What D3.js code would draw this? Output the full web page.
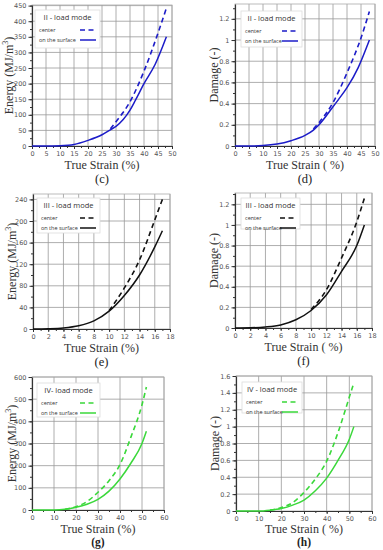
<!DOCTYPE html>
<html>
<head>
<meta charset="utf-8">
<style>
body { margin: 0; background: #fff; }
svg { display: block; }
.tick text { font-family: "DejaVu Sans", sans-serif; font-size: 6.5px; fill: #555; }
.domain { stroke: #333; }
.tick line { stroke: #333; }
.leg-title { font-family: "Open Sans", sans-serif; font-size: 7.5px; fill: #333; }
.leg-item { font-family: "Open Sans", sans-serif; font-size: 5.5px; fill: #333; }
</style>
</head>
<body>
<div id="chart"></div>
<script src="https://cdn.jsdelivr.net/npm/d3@7"></script>
<script>

// ---- data ----
// (c) energy, II load mode
var strainC = [0, 5, 10, 15, 20, 25, 28, 30, 35, 37, 40, 44, 48];
var energyCSurface = [0, 0, 1, 5, 18, 36, 52, 63, 115, 148, 200, 262, 350];
var strainCCenter = [28, 30, 35, 40, 45, 48];
var energyCCenter = [55, 78, 142, 240, 362, 442];

// (d) damage, II load mode
var strainD = [0, 5, 10, 15, 20, 25, 28, 30, 35, 37, 40, 44, 48];
var damageDSurface = [0, 0, 0.004, 0.018, 0.05, 0.1, 0.15, 0.2, 0.37, 0.44, 0.55, 0.74, 1.0];
var strainDCenter = [28, 30, 35, 40, 45, 48];
var damageDCenter = [0.16, 0.22, 0.41, 0.69, 1.02, 1.27];

// (e) energy, III load mode
var strainE = [0, 2, 4, 6, 8, 10, 12, 14, 16, 17];
var energyESurface = [0, 0.5, 2, 6, 15, 33, 62, 100, 152, 182];
var strainECenter = [10, 12, 14, 16, 17];
var energyECenter = [34, 76, 128, 202, 240];

// (f) damage, III load mode
var strainF = [0, 2, 4, 6, 8, 10, 12, 14, 16, 17];
var damageFSurface = [0, 0.002, 0.01, 0.03, 0.08, 0.17, 0.32, 0.55, 0.8, 1.0];
var strainFCenter = [10, 12, 14, 16, 17];
var damageFCenter = [0.18, 0.37, 0.68, 1.03, 1.26];

// (g) energy, IV load mode
var strainG = [0, 10, 15, 20, 25, 30, 35, 40, 45, 50, 52];
var energyGSurface = [0, 0, 3, 12, 26, 48, 85, 140, 212, 300, 355];
var strainGCenter = [15, 20, 25, 30, 35, 40, 45, 50, 52];
var energyGCenter = [3, 15, 38, 80, 132, 205, 330, 475, 555];

// (h) damage, IV load mode
var strainH = [0, 10, 15, 20, 25, 30, 35, 40, 45, 50, 52];
var damageHSurface = [0, 0, 0.01, 0.03, 0.07, 0.13, 0.24, 0.39, 0.6, 0.85, 1.0];
var strainHCenter = [15, 20, 25, 30, 35, 40, 45, 50, 52];
var damageHCenter = [0.01, 0.04, 0.1, 0.22, 0.38, 0.59, 0.93, 1.35, 1.52];

var legendLabels = ["center", "on the surface"];

var panels = [
  { x0: 32, x1: 172, y0: 146, y1: 5, xd: [0, 50], xStep: 5, yd: [0, 452], yStep: 50, yMax: 450,
    sx: strainC, sy: energyCSurface, cx: strainCCenter, cy: energyCCenter, color: "#1c1cc8",
    title: "II - load mode", ylab: "energy", cap: "(c)", legend: [35, 10, 65, 38], ylx: 9, xly: 22.5, capy: 37, capSize: 12.5 },
  { x0: 235, x1: 375, y0: 146, y1: 4, xd: [0, 50], xStep: 5, yd: [0, 1.34], yStep: 0.2, yMax: 1.2,
    sx: strainD, sy: damageDSurface, cx: strainDCenter, cy: damageDCenter, color: "#1c1cc8",
    title: "II - load mode", ylab: "damage", cap: "(d)", legend: [241, 11, 61, 36], ylx: 214, xly: 22.5, capy: 37, capSize: 12.5 },
  { x0: 33, x1: 170, y0: 329, y1: 194, xd: [0, 18], xStep: 2, yd: [0, 250], yStep: 40, yMax: 240,
    sx: strainE, sy: energyESurface, cx: strainECenter, cy: energyECenter, color: "#111",
    title: "III - load mode", ylab: "energy", cap: "(e)", legend: [37, 198, 63, 35], ylx: 12, xly: 22.5, capy: 36.5, capSize: 12.5 },
  { x0: 235, x1: 372, y0: 328, y1: 193, xd: [0, 18], xStep: 2, yd: [0, 1.31], yStep: 0.2, yMax: 1.2,
    sx: strainF, sy: damageFSurface, cx: strainFCenter, cy: damageFCenter, color: "#111",
    title: "III - load mode", ylab: "damage", cap: "(f)", legend: [241, 198, 59, 31], ylx: 214, xly: 22.5, capy: 36.5, capSize: 12.5 },
  { x0: 32, x1: 164, y0: 510, y1: 377, xd: [0, 60], xStep: 10, yd: [0, 600], yStep: 100, yMax: 600,
    sx: strainG, sy: energyGSurface, cx: strainGCenter, cy: energyGCenter, color: "#3ad83a",
    title: "IV- load mode", ylab: "energy", cap: "(g)", legend: [37, 383, 63, 34], ylx: 12, xly: 22.5, capy: 36, capSize: 11.5, bold: true },
  { x0: 236, x1: 372, y0: 511, y1: 376, xd: [0, 60], xStep: 10, yd: [0, 1.6], yStep: 0.2, yMax: 1.6,
    sx: strainH, sy: damageHSurface, cx: strainHCenter, cy: damageHCenter, color: "#3ad83a",
    title: "IV - load mode", ylab: "damage", cap: "(h)", legend: [242, 382, 60, 31], ylx: 215, xly: 22, capy: 35, capSize: 11.5, bold: true }
];

var svg = d3.select("#chart").append("svg")
    .attr("width", 383)
    .attr("height", 550);

function steps(a, b, s) {
  var out = [];
  for (var i = 0; a + i * s <= b + 1e-9; i++) out.push(+(a + i * s).toFixed(4));
  return out;
}

var serif = "'Liberation Serif', 'Times New Roman', serif";

panels.forEach(function(p) {
  var x = d3.scaleLinear().domain(p.xd).range([p.x0, p.x1]);
  var y = d3.scaleLinear().domain(p.yd).range([p.y0, p.y1]);
  var xt = steps(p.xd[0], p.xd[1], p.xStep);
  var yt = steps(0, p.yMax, p.yStep);
  var xm = steps(p.xd[0], p.xd[1], p.xStep / 2);
  var ym = steps(0, p.yd[1], p.yStep / 2);
  var g = svg.append("g");

  // grid
  g.selectAll(".gx").data(xt.slice(1)).enter().append("line")
      .attr("x1", d => x(d)).attr("x2", d => x(d))
      .attr("y1", p.y0).attr("y2", p.y1)
      .attr("stroke", "#999").attr("stroke-width", 0.8);
  g.selectAll(".gy").data(yt.slice(1)).enter().append("line")
      .attr("x1", p.x0).attr("x2", p.x1)
      .attr("y1", d => y(d)).attr("y2", d => y(d))
      .attr("stroke", "#999").attr("stroke-width", 0.8);
  g.append("rect")
      .attr("x", p.x0).attr("y", p.y1)
      .attr("width", p.x1 - p.x0).attr("height", p.y0 - p.y1)
      .attr("fill", "none").attr("stroke", "#aaa").attr("stroke-width", 0.8);

  // minor ticks
  g.append("g").attr("transform", "translate(0," + p.y0 + ")")
      .call(d3.axisBottom(x).tickValues(xm).tickSize(2).tickFormat(""))
      .call(a => a.select(".domain").remove());
  g.append("g").attr("transform", "translate(" + p.x0 + ",0)")
      .call(d3.axisLeft(y).tickValues(ym).tickSize(2).tickFormat(""))
      .call(a => a.select(".domain").remove());

  // major axes
  g.append("g").attr("transform", "translate(0," + p.y0 + ")")
      .call(d3.axisBottom(x).tickValues(xt).tickSize(3).tickPadding(2).tickSizeOuter(0))
      .call(a => a.select(".domain").attr("stroke-width", 1.2));
  g.append("g").attr("transform", "translate(" + p.x0 + ",0)")
      .call(d3.axisLeft(y).tickValues(yt).tickSize(3.5).tickPadding(2).tickSizeOuter(0)
        .tickFormat(d => String(+d.toFixed(1))))
      .call(a => a.select(".domain").attr("stroke-width", 1.2));

  // curves
  var line = d3.line().x(d => x(d[0])).y(d => y(d[1])).curve(d3.curveMonotoneX);
  g.append("path")
      .datum(d3.zip(p.sx, p.sy))
      .attr("d", line)
      .attr("fill", "none").attr("stroke", p.color).attr("stroke-width", 1.5);
  g.append("path")
      .datum(d3.zip(p.cx, p.cy))
      .attr("d", line)
      .attr("fill", "none").attr("stroke", p.color).attr("stroke-width", 1.6)
      .attr("stroke-dasharray", "5,3.5");

  // legend
  var L = p.legend;
  g.append("rect")
      .attr("x", L[0]).attr("y", L[1]).attr("width", L[2]).attr("height", L[3])
      .attr("fill", "#fff").attr("stroke", "#ddd").attr("stroke-width", 0.8);
  g.append("text").attr("class", "leg-title")
      .attr("x", L[0] + L[2] / 2).attr("y", L[1] + 10)
      .attr("text-anchor", "middle").text(p.title);
  legendLabels.forEach(function(lab, i) {
    var ly = L[1] + 20 + i * 10;
    g.append("text").attr("class", "leg-item")
        .attr("x", L[0] + 4).attr("y", ly + 2).text(lab);
    g.append("line")
        .attr("x1", L[0] + L[2] - 20).attr("x2", L[0] + L[2] - 4)
        .attr("y1", ly).attr("y2", ly)
        .attr("stroke", p.color).attr("stroke-width", 1.5)
        .attr("stroke-dasharray", i === 0 ? "5,3.5" : null);
  });

  // axis titles
  g.append("text")
      .attr("font-family", serif).attr("font-size", 12).attr("font-weight", "normal").attr("fill", "#333")
      .attr("x", (p.x0 + p.x1) / 2).attr("y", p.y0 + p.xly)
      .attr("text-anchor", "middle")
      .text(p.ylab === "energy" ? "True Strain (%)" : "True Strain ( %)");
  var yl = g.append("text")
      .attr("font-family", serif).attr("font-size", 12).attr("font-weight", "normal").attr("fill", "#333")
      .attr("transform", "translate(" + (p.ylx + 4) + "," + ((p.y0 + p.y1) / 2) + ") rotate(-90)")
      .attr("text-anchor", "middle");
  if (p.ylab === "energy") {
    yl.append("tspan").text("Energy (MJ/m");
    yl.append("tspan").attr("dy", -5).attr("font-size", 8).text("3");
    yl.append("tspan").attr("dy", 5).text(")");
  } else {
    yl.text("Damage (-)");
  }

  g.append("text")
      .attr("font-family", serif).attr("font-size", p.capSize).attr("fill", "#222")
      .attr("x", (p.x0 + p.x1) / 2).attr("y", p.y0 + p.capy)
      .attr("text-anchor", "middle")
      .attr("font-weight", p.bold ? "bold" : "normal")
      .text(p.cap);
});

</script>
</body>
</html>
